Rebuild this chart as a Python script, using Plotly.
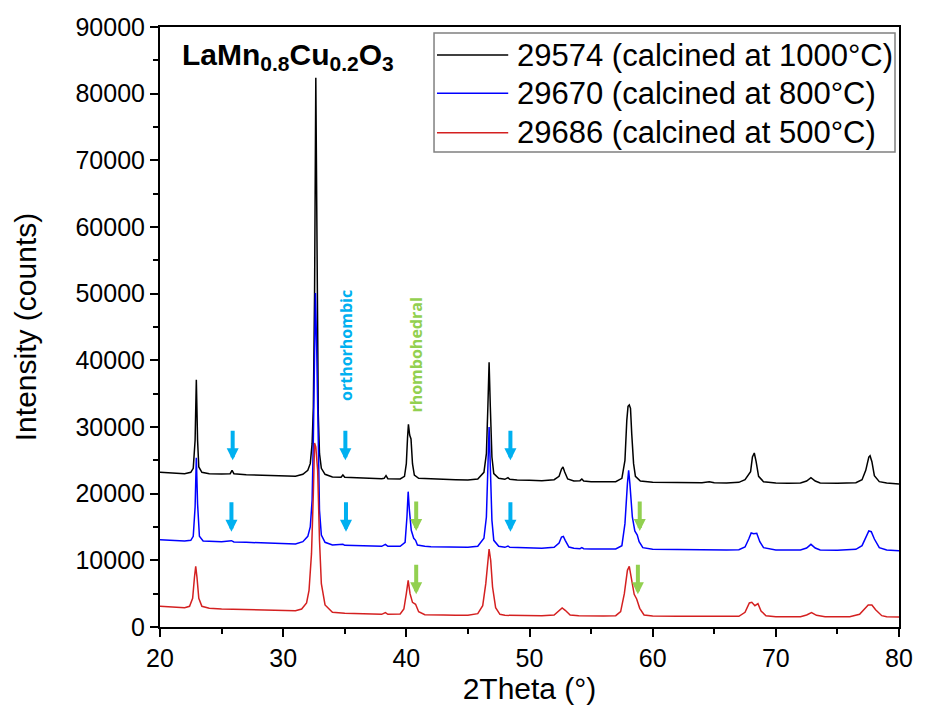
import plotly.graph_objects as go

# --- XRD patterns of LaMn0.8Cu0.2O3, offset stacked -------------------------
series_names = [
    "29574 (calcined at 1000°C)",
    "29670 (calcined at 800°C)",
    "29686 (calcined at 500°C)",
]
series_colors = ["#000000", "#0000FF", "#D42020"]

two_theta_1000 = [
    20.0, 21.0, 22.0, 22.5, 22.7, 22.85, 22.95, 23.05, 23.15, 23.4, 24.0, 25.0,
    25.7, 25.85, 26.0, 27.0, 28.0, 29.0, 30.0, 31.0, 31.6, 32.0, 32.2, 32.35,
    32.45, 32.55, 32.65, 32.75, 32.85, 32.95, 33.1, 33.4, 34.0, 34.7, 34.85,
    35.0, 36.0, 37.0, 38.0, 38.2, 38.35, 38.5, 39.5, 39.85, 40.0, 40.1, 40.17,
    40.27, 40.38, 40.5, 40.65, 41.0, 42.0, 43.0, 44.0, 45.0, 45.8, 46.3, 46.5,
    46.62, 46.72, 46.82, 46.95, 47.1, 47.5, 48.0, 48.25, 48.4, 49.0, 50.0, 51.0,
    52.0, 52.4, 52.6, 52.72, 52.85, 53.1, 53.6, 54.1, 54.25, 54.4, 55.0, 56.0,
    57.0, 57.5, 57.75, 57.9, 58.0, 58.1, 58.2, 58.3, 58.45, 58.6, 59.0, 60.0,
    62.0, 64.0, 64.6, 65.0, 66.0, 67.0, 67.5, 67.8, 67.95, 68.1, 68.25, 68.4,
    68.6, 69.0, 70.0, 71.0, 72.0, 72.5, 72.85, 73.2, 73.6, 75.0, 76.5, 77.0,
    77.3, 77.55, 77.65, 77.8, 78.0, 78.4, 79.0, 80.0,
]
counts_1000 = [
    23200, 23100, 23000, 23200, 23800, 28000, 37100, 28000, 24000, 23200, 23000, 22950,
    23000, 23500, 23000, 22850, 22800, 22700, 22650, 22600, 22900, 23500, 24500, 27500,
    33000, 50000, 82400, 55000, 32000, 26000, 23800, 22900, 22500, 22450, 22800,
    22450, 22350, 22300, 22250, 22300, 22700, 22250, 22200, 22600, 24500, 28500, 30400,
    28800, 28200, 24500, 22800, 22300, 22200, 22150, 22100, 22050, 22200, 23200, 26000,
    33000, 39700, 33000, 25500, 23000, 22300, 22150, 22400, 22150, 22050, 22000, 21950,
    22100, 22600, 23700, 24000, 23300, 22200, 21900, 21950, 22200, 21900, 21800, 21750,
    21800, 22300, 25000, 31000, 33100, 33300, 32800, 29000, 24500, 22600, 21900, 21700,
    21650, 21650, 21800, 21650, 21600, 21700, 22100, 23000, 23300, 25500, 26100, 24800,
    22600, 21800, 21600, 21550, 21600, 21900, 22400, 21900, 21600, 21550, 21650, 22100,
    23500, 25500, 25700, 24800, 22700, 21800, 21600, 21450,
]

two_theta_800 = [
    20.0, 21.0, 22.0, 22.5, 22.7, 22.85, 22.95, 23.05, 23.2, 23.5, 24.0, 25.0,
    25.8, 26.0, 27.0, 28.0, 29.0, 30.0, 31.0, 31.6, 32.0, 32.2, 32.35, 32.45,
    32.55, 32.62, 32.72, 32.82, 32.95, 33.1, 33.4, 34.0, 34.85, 35.0, 36.0, 37.0,
    38.0, 38.3, 38.5, 39.5, 39.9, 40.05, 40.15, 40.25, 40.4, 40.6, 40.75, 40.9,
    41.5, 42.0, 43.0, 44.0, 45.0, 45.8, 46.3, 46.5, 46.62, 46.72, 46.82, 46.95,
    47.1, 47.5, 48.0, 48.25, 48.4, 49.0, 50.0, 51.0, 52.0, 52.4, 52.6, 52.75,
    52.9, 53.2, 53.6, 54.1, 54.25, 54.4, 55.0, 56.0, 57.0, 57.5, 57.75, 57.95,
    58.05, 58.15, 58.35, 58.55, 58.75, 58.9, 59.2, 60.0, 62.0, 64.0, 65.0, 66.0,
    67.0, 67.5, 67.8, 68.0, 68.2, 68.45, 68.7, 69.0, 70.0, 71.0, 72.0, 72.5,
    72.85, 73.2, 73.6, 75.0, 76.5, 77.0, 77.3, 77.55, 77.75, 78.0, 78.4, 79.0,
    80.0,
]
counts_800 = [
    13100, 13000, 12900, 13000, 13600, 18000, 25400, 18500, 13600, 12900, 12850, 12800,
    12950, 12750, 12700, 12650, 12600, 12500, 12450, 12800, 13600, 15000, 19000, 28000,
    42000, 50100, 42000, 28000, 17500, 13800, 12700, 12300, 12400, 12250, 12200, 12150,
    12100, 12400, 12100, 12100, 12700, 16500, 20300, 17500, 14500, 13300, 13000, 12300,
    12100, 12050, 12000, 12000, 11950, 12100, 13300, 16500, 24000, 30000, 24000, 16000,
    13000, 12100, 11950, 12150, 11950, 11900, 11850, 11800, 11950, 12600, 13500, 13600,
    13000, 12000, 11800, 11750, 11900, 11750, 11700, 11650, 11700, 12200, 15500, 21500,
    23500, 21500, 16500, 14400, 13800, 12800, 11900, 11650, 11600, 11600, 11600, 11550,
    11600, 12000, 13200, 14100, 14000, 14050, 12800, 11900, 11550, 11500, 11550, 11850,
    12400, 11850, 11550, 11500, 11650, 12200, 13500, 14400, 14300, 13200, 11900, 11550,
    11450,
]

two_theta_500 = [
    20.0, 21.0, 22.0, 22.4, 22.65, 22.8, 22.9, 23.0, 23.15, 23.4, 24.0, 25.0,
    26.0, 27.0, 28.0, 29.0, 30.0, 31.0, 31.5, 31.9, 32.1, 32.3, 32.45, 32.55,
    32.65, 32.8, 32.95, 33.1, 33.4, 34.0, 35.0, 36.0, 37.0, 38.0, 38.3, 38.5,
    39.5, 39.8, 40.0, 40.15, 40.3, 40.5, 40.75, 41.0, 41.5, 42.0, 43.0, 44.0,
    45.0, 45.8, 46.2, 46.45, 46.6, 46.72, 46.85, 47.0, 47.25, 47.6, 48.0, 49.0,
    50.0, 51.0, 52.0, 52.4, 52.65, 52.9, 53.3, 54.0, 55.0, 56.0, 57.0, 57.4,
    57.7, 57.95, 58.1, 58.3, 58.5, 58.7, 58.95, 59.3, 60.0, 62.0, 64.0, 66.0,
    67.0, 67.5, 67.85, 68.05, 68.3, 68.55, 68.8, 69.2, 70.0, 72.0, 72.5, 72.9,
    73.3, 74.0, 76.0, 76.8, 77.2, 77.5, 77.8, 78.1, 78.6, 79.0, 80.0,
]
counts_500 = [
    3100, 3000, 2900, 3100, 4300, 7500, 9100, 7500, 4300, 3100, 2800, 2700,
    2650, 2600, 2550, 2500, 2450, 2450, 2700, 3600, 5500, 11000, 20000, 27600,
    27000, 23500, 13000, 6500, 3300, 2200, 2050, 2000, 1950, 1900, 2150, 1900,
    1950, 2700, 5000, 7000, 5000, 3700, 3400, 2300, 1850, 1800, 1800, 1780,
    1780, 2000, 3200, 6500, 10000, 11700, 10000, 6000, 2900, 1900, 1750, 1700,
    1700, 1680, 1800, 2400, 2850, 2500, 1800, 1700, 1650, 1650, 1700, 2300,
    5000, 8500, 9100, 7200, 4900, 4200, 2800, 1800, 1650, 1600, 1600, 1550,
    1600, 2200, 3600, 3700, 3200, 3500, 2400, 1700, 1550, 1550, 1800, 2150,
    1750, 1550, 1550, 1900, 2700, 3300, 3300, 2600, 1700, 1550, 1500,
]

# phase markers: (2theta, counts at arrow tip)
ortho_marks_2theta = [25.9, 35.05, 48.45, 25.8, 35.1, 48.45]
ortho_marks_counts = [25000, 25000, 25000, 14300, 14300, 14300]
rhombo_marks_2theta = [40.8, 58.95, 40.8, 58.8]
rhombo_marks_counts = [14400, 14400, 4900, 4900]

x_ticks = [20, 30, 40, 50, 60, 70, 80]
y_ticks = [0, 10000, 20000, 30000, 40000, 50000, 60000, 70000, 80000, 90000]

ORTHO_COLOR = "#00B0F0"
RHOMBO_COLOR = "#92D050"
FONT = "Liberation Sans, Arial, sans-serif"

fig = go.Figure()
for name, color, xs, ys in zip(
    series_names,
    series_colors,
    [two_theta_1000, two_theta_800, two_theta_500],
    [counts_1000, counts_800, counts_500],
):
    fig.add_trace(go.Scatter(
        x=xs, y=ys, mode="lines", name=name, showlegend=False,
        line=dict(color=color, width=1.5),
    ))

annotations = []
for xv, yv in zip(ortho_marks_2theta, ortho_marks_counts):
    annotations.append(dict(
        x=xv, y=yv, xref="x", yref="y", text="", showarrow=True,
        ax=0, ay=-31, arrowhead=2, arrowsize=0.6, arrowwidth=4,
        arrowcolor=ORTHO_COLOR, standoff=0,
    ))
for xv, yv in zip(rhombo_marks_2theta, rhombo_marks_counts):
    annotations.append(dict(
        x=xv, y=yv, xref="x", yref="y", text="", showarrow=True,
        ax=0, ay=-31, arrowhead=2, arrowsize=0.6, arrowwidth=4,
        arrowcolor=RHOMBO_COLOR, standoff=0,
    ))

# phase labels
annotations.append(dict(
    x=35.1, y=42300, xref="x", yref="y", text="<b>orthorhombic</b>",
    textangle=-90, showarrow=False,
    font=dict(family="Open Sans, sans-serif", size=16, color=ORTHO_COLOR),
))
annotations.append(dict(
    x=40.75, y=40800, xref="x", yref="y", text="<b>rhombohedral</b>",
    textangle=-90, showarrow=False,
    font=dict(family="Open Sans, sans-serif", size=16, color=RHOMBO_COLOR),
))

# sample formula
annotations.append(dict(
    x=0.027, y=0.985, xref="paper", yref="paper", xanchor="left", yanchor="top",
    text="<b>LaMn<sub>0.8</sub>Cu<sub>0.2</sub>O<sub>3</sub></b>",
    showarrow=False, font=dict(family=FONT, size=30, color="#000000"),
))

# legend box drawn in paper space
shapes = [dict(
    type="rect", xref="paper", yref="paper",
    x0=0.3708, x1=0.9946, y0=0.7917, y1=0.99,
    line=dict(color="#808080", width=1.5), fillcolor="white", layer="above",
)]
legend_rows_y = [0.9533, 0.8895, 0.8238]
for name, color, ry in zip(series_names, series_colors, legend_rows_y):
    shapes.append(dict(
        type="line", xref="paper", yref="paper",
        x0=0.3748, x1=0.4712, y0=ry, y1=ry,
        line=dict(color=color, width=1.6), layer="above",
    ))
    annotations.append(dict(
        x=0.4806, y=ry, xref="paper", yref="paper", xanchor="left",
        yanchor="middle", text=name, showarrow=False,
        font=dict(family=FONT, size=31, color="#000000"),
    ))

axis_common = dict(
    showline=True, linecolor="black", linewidth=2, mirror=True,
    ticks="outside", ticklen=8, tickwidth=2, tickcolor="black",
    showgrid=False, zeroline=False,
    tickfont=dict(family=FONT, size=25, color="black"),
)

fig.update_layout(
    width=925, height=719,
    margin=dict(l=160, r=18, t=27, b=92),
    paper_bgcolor="white", plot_bgcolor="white",
    font=dict(family=FONT, color="black"),
    xaxis=dict(
        range=[20, 80], tickvals=x_ticks,
        minor=dict(dtick=5, tick0=20, ticks="outside", ticklen=5,
                   tickwidth=2, tickcolor="black"),
        title=dict(text="2Theta (°)", font=dict(family=FONT, size=30), standoff=4),
        **axis_common,
    ),
    yaxis=dict(
        range=[0, 90000], tickvals=y_ticks, tickformat="d",
        minor=dict(dtick=5000, tick0=0, ticks="outside", ticklen=5,
                   tickwidth=2, tickcolor="black"),
        title=dict(text="Intensity (counts)", font=dict(family=FONT, size=30), standoff=30),
        **axis_common,
    ),
    annotations=annotations,
    shapes=shapes,
)

fig.write_html("out.html")
